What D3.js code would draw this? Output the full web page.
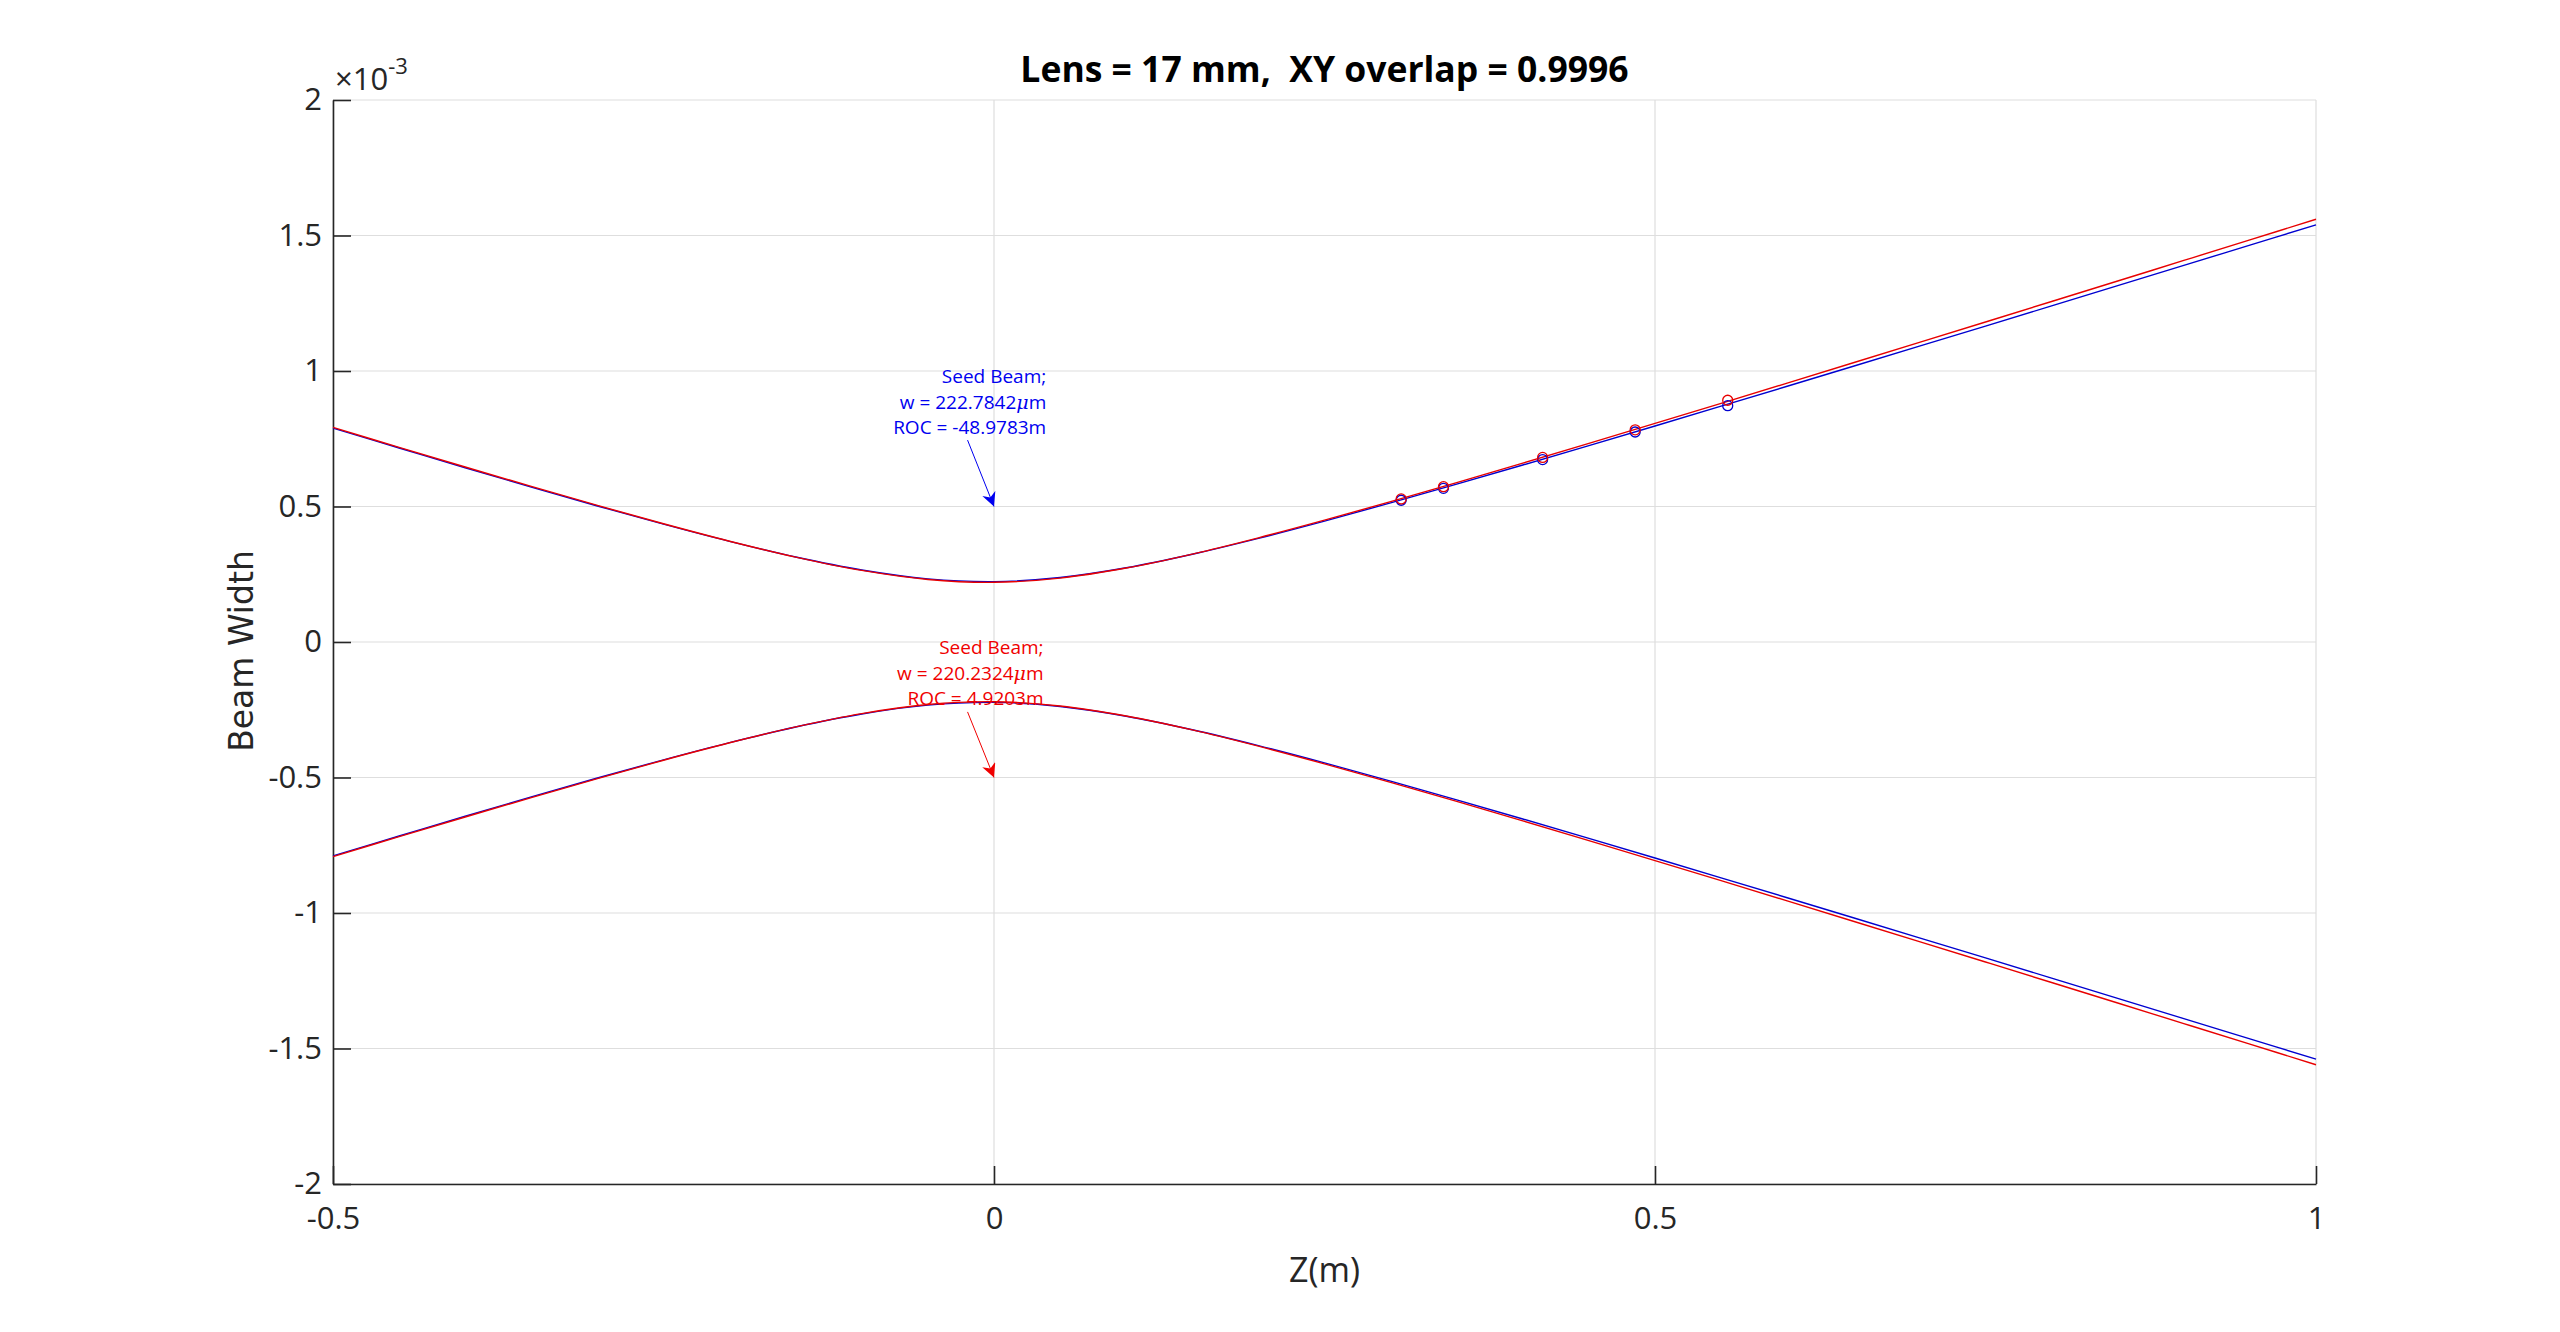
<!DOCTYPE html>
<html>
<head>
<meta charset="utf-8">
<script src="https://cdn.jsdelivr.net/npm/d3@7"></script>
<style>
  html, body { margin: 0; padding: 0; background: #fff; }
  svg { display: block; }
</style>
</head>
<body>
<svg id="chart" width="2560" height="1332"></svg>
<script>
// ---- data (beam widths in units of 1e-3 m) ----
const zPos = [-0.50,-0.45,-0.40,-0.35,-0.30,-0.25,-0.20,-0.15,-0.10,-0.05,0.00,0.05,0.10,0.15,0.20,0.25,0.30,0.35,0.40,0.45,0.50,0.55,0.60,0.65,0.70,0.75,0.80,0.85,0.90,0.95,1.00];
const blueWidth = [0.7890,0.7160,0.6430,0.5715,0.5020,0.4348,0.3712,0.3135,0.2656,0.2330,0.2229,0.2379,0.2738,0.3238,0.3823,0.4461,0.5132,0.5824,0.6530,0.7247,0.7972,0.8702,0.9436,1.0174,1.0915,1.1658,1.2403,1.3149,1.3896,1.4645,1.5394];
const redWidth  = [0.7918,0.7184,0.6457,0.5740,0.5040,0.4362,0.3719,0.3133,0.2642,0.2308,0.2203,0.2359,0.2730,0.3244,0.3844,0.4495,0.5178,0.5883,0.6601,0.7330,0.8066,0.8808,0.9554,1.0303,1.1055,1.1809,1.2564,1.3321,1.4080,1.4839,1.5599];
const markerZ = [0.308, 0.340, 0.415, 0.485, 0.555];
const markerBlue = [0.523, 0.567, 0.673, 0.775, 0.872];
const markerRed  = [0.528, 0.573, 0.681, 0.783, 0.892];
const xTicks = [-0.5, 0, 0.5, 1];
const yTicks = [-2, -1.5, -1, -0.5, 0, 0.5, 1, 1.5, 2];
const titleText = "Lens = 17 mm,  XY overlap = 0.9996";
const xLabel = "Z(m)";
const yLabel = "Beam Width";
const blueNote = ["Seed Beam;", "w = 222.7842", "ROC = -48.9783m"];
const redNote  = ["Seed Beam;", "w = 220.2324", "ROC = 4.9203m"];
// annotation anchors (data units): text right edge, first baseline, arrow tail, arrow tip
const blueNotePos = {tx: 0.0395, ty: 0.956, ax: -0.020, ay: 0.745, hx: 0, hy: 0.5};
const redNotePos  = {tx: 0.0375, ty: -0.044, ax: -0.020, ay: -0.258, hx: 0, hy: -0.5};

// ---- layout ----
const L = 333, R = 2316, T = 100, B = 1184;
const BLUE = "#0000d0", RED = "#e80000", BLUE_TXT = "#0000f0", RED_TXT = "#f00000";
const AX = "#262626", GRID = "#dedede";
const FONT = "'Open Sans', 'Noto Sans', sans-serif";

const svg = d3.select("#chart");
svg.append("rect").attr("width", 2560).attr("height", 1332).attr("fill", "#fff");

const x = d3.scaleLinear().domain([-0.5, 1]).range([L, R]);
const y = d3.scaleLinear().domain([-2, 2]).range([B, T]);

// grid
const grid = svg.append("g");
grid.selectAll(".gx").data(xTicks).join("line")
  .attr("x1", d => x(d)).attr("x2", d => x(d)).attr("y1", T).attr("y2", B)
  .attr("stroke", GRID).attr("stroke-width", 1.2);
grid.selectAll(".gy").data(yTicks).join("line")
  .attr("y1", d => y(d)).attr("y2", d => y(d)).attr("x1", L).attr("x2", R)
  .attr("stroke", GRID).attr("stroke-width", 1.2);

// axes
const fmt = d => String(d);
const gx = svg.append("g").attr("transform", `translate(0,${B})`)
  .call(d3.axisBottom(x).tickValues(xTicks).tickFormat(fmt).tickSize(-18).tickSizeOuter(0).tickPadding(23));
const gy = svg.append("g").attr("transform", `translate(${L},0)`)
  .call(d3.axisLeft(y).tickValues(yTicks).tickFormat(fmt).tickSize(-18).tickSizeOuter(0).tickPadding(11));
[gx, gy].forEach(g => {
  g.select(".domain").attr("stroke", AX).attr("stroke-width", 1.6);
  g.selectAll(".tick line").attr("stroke", AX).attr("stroke-width", 1.6);
  g.selectAll(".tick text").attr("fill", AX).style("font-family", FONT).style("font-size", "31px");
});

// exponent
const ex = svg.append("text").attr("x", 335).attr("y", 90).attr("fill", AX)
  .style("font-family", FONT).style("font-size", "31px");
ex.append("tspan").text("\u00d710");
ex.append("tspan").attr("dy", -16).style("font-size", "22px").text("-3");

// curves
const line = d3.line().curve(d3.curveCatmullRom.alpha(0.5));
const upper = w => zPos.map((z, i) => [x(z), y(w[i])]);
const lower = w => zPos.map((z, i) => [x(z), y(-w[i])]);
const curves = svg.append("g").attr("fill", "none").attr("stroke-width", 1.4);
curves.append("path").attr("d", line(upper(blueWidth))).attr("stroke", BLUE);
curves.append("path").attr("d", line(lower(blueWidth))).attr("stroke", BLUE);
curves.append("path").attr("d", line(upper(redWidth))).attr("stroke", RED);
curves.append("path").attr("d", line(lower(redWidth))).attr("stroke", RED);

// markers
const mk = svg.append("g").attr("fill", "none").attr("stroke-width", 1.3);
mk.selectAll(".mb").data(markerZ).join("circle")
  .attr("cx", d => x(d)).attr("cy", (d, i) => y(markerBlue[i])).attr("r", 5).attr("stroke", BLUE);
mk.selectAll(".mr").data(markerZ).join("circle")
  .attr("cx", d => x(d)).attr("cy", (d, i) => y(markerRed[i])).attr("r", 5).attr("stroke", RED);

// annotations
const defs = svg.append("defs");
[["ab", BLUE_TXT], ["ar", RED_TXT]].forEach(([id, c]) => {
  defs.append("marker").attr("id", id).attr("viewBox", "0 0 10 10").attr("refX", 10).attr("refY", 5)
    .attr("markerWidth", 14).attr("markerHeight", 14).attr("markerUnits", "userSpaceOnUse")
    .attr("orient", "auto")
    .append("path").attr("d", "M0,0 L10,5 L0,10 L3,5 Z").attr("fill", c);
});
function note(lines, p, color, mid) {
  const g = svg.append("g");
  lines.forEach((t, i) => {
    const tx = g.append("text").attr("x", x(p.tx)).attr("y", y(p.ty) + i * 25.7)
      .attr("text-anchor", "end").attr("fill", color)
      .style("font-family", FONT).style("font-size", "19px");
    tx.append("tspan").text(t);
    if (i === 1) {
      tx.append("tspan").style("font-style", "italic").style("font-family", "'DejaVu Serif', serif").text("\u03bc");
      tx.append("tspan").text("m");
    }
  });
  g.append("line").attr("x1", x(p.ax)).attr("y1", y(p.ay)).attr("x2", x(p.hx)).attr("y2", y(p.hy))
    .attr("stroke", color).attr("stroke-width", 1).attr("marker-end", `url(#${mid})`);
}
note(blueNote, blueNotePos, BLUE_TXT, "ab");
note(redNote, redNotePos, RED_TXT, "ar");

// labels
svg.append("text").attr("x", (L + R) / 2).attr("y", 82).attr("text-anchor", "middle")
  .attr("xml:space", "preserve").style("white-space", "pre")
  .attr("fill", "#000").style("font-family", FONT).style("font-weight", "bold").style("font-size", "35.5px")
  .text(titleText);
svg.append("text").attr("x", (L + R) / 2).attr("y", 1282).attr("text-anchor", "middle")
  .attr("fill", AX).style("font-family", FONT).style("font-size", "34px").text(xLabel);
svg.append("text").attr("transform", "translate(253,651) rotate(-90)").attr("text-anchor", "middle")
  .attr("fill", AX).style("font-family", "'DejaVu Sans', sans-serif").style("font-size", "33px").text(yLabel);
</script>
</body>
</html>
